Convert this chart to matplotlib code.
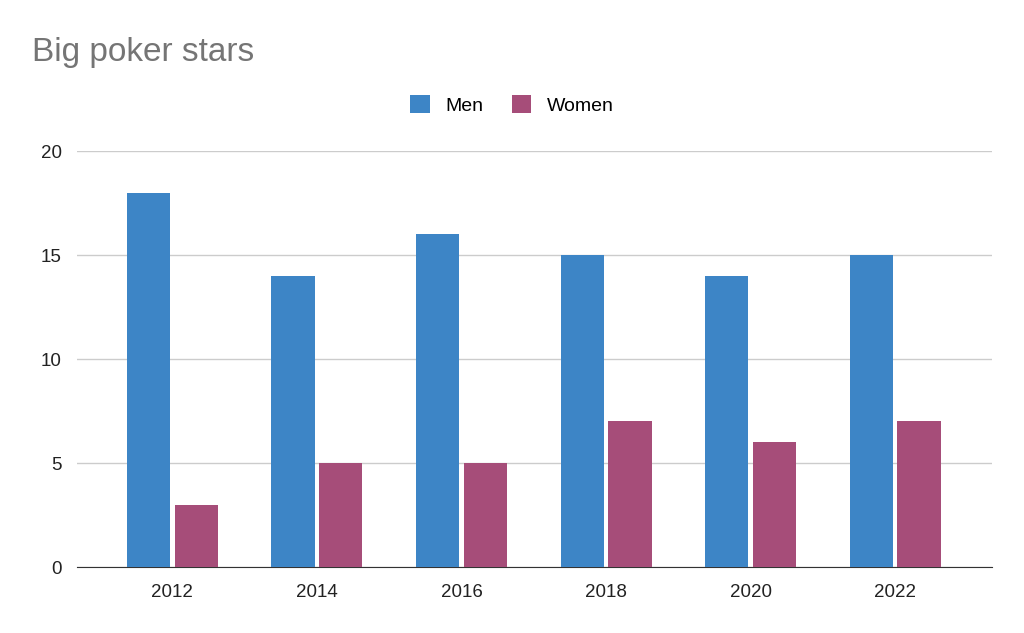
import matplotlib.pyplot as plt
import numpy as np

plt.rcParams['font.family'] = ['Liberation Sans', 'DejaVu Sans']

years = ['2012', '2014', '2016', '2018', '2020', '2022']
men = [18, 14, 16, 15, 14, 15]
women = [3, 5, 5, 7, 6, 7]

fig = plt.figure(figsize=(10.24, 6.33), dpi=100)
ax = fig.add_axes([77 / 1024, 66 / 633, 915 / 1024, 416 / 633])

x = np.arange(len(years))
w = 0.30
ax.bar(x - 0.165, men, w, color='#3d85c6', label='Men', zorder=3)
ax.bar(x + 0.165, women, w, color='#a64d79', label='Women', zorder=3)

ax.set_xlim(-0.66, 5.67)
ax.set_ylim(0, 20)
ax.set_yticks([0, 5, 10, 15, 20])
ax.set_xticks(x)
ax.set_xticklabels(years)
ax.grid(axis='y', color='#cccccc', linewidth=1, zorder=0)
for s in ['top', 'right', 'left']:
    ax.spines[s].set_visible(False)
ax.spines['bottom'].set_color('#333333')
ax.tick_params(axis='both', length=0, labelsize=13.5, colors='#222222')
ax.tick_params(axis='y', pad=11)
ax.tick_params(axis='x', pad=12)

fig.text(32 / 1024, 1 - 52 / 633, 'Big poker stars', fontsize=24, color='#757575', va='center')
fig.legend(loc='center', bbox_to_anchor=(0.5, 1 - 105 / 633), ncol=2, frameon=False,
           fontsize=14, handlelength=1.0, handleheight=1.0, handletextpad=0.8,
           columnspacing=1.45)

fig.savefig('out.png', dpi=100)
